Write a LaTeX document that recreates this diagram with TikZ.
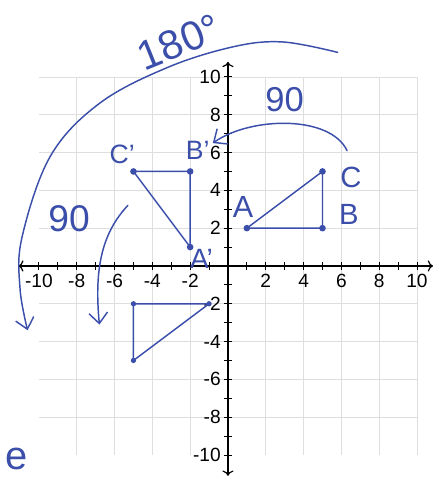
\documentclass[tikz,border=0pt]{standalone}
\usepackage{fontspec}
\setmainfont{Liberation Sans}
\usetikzlibrary{arrows.meta}
\definecolor{pen}{RGB}{58,78,170}

\begin{document}
\begin{tikzpicture}[x=0.5cm, y=0.5cm, font=\Large,
  pen/.style={draw=pen, line width=1.1pt, line cap=round, line join=round},
  dot/.style={circle, fill=pen, inner sep=0pt, minimum size=5pt},
  hand/.style={text=pen, inner sep=1pt},
  turn/.style={pen, -{Straight Barb[length=8pt, width=14pt]}}]
  \useasboundingbox (-12.06,-11.27) rectangle (11.27,14.07);
  % squared paper
  \draw[black!13, line width=0.6pt] (-10,-10) grid (10,10);
  % axes
  \draw[line width=0.9pt, {To[length=4pt]}-{To[length=4pt]}] (-11.1,0) -- (10.85,0);
  \draw[line width=0.9pt, {To[length=4pt]}-{To[length=4pt]}] (0,-11.1) -- (0,10.8);
  \foreach \i in {-10,...,-1,1,2,...,10} {
    \draw[line width=0.7pt] (\i,-0.22) -- (\i,0.22);
    \draw[line width=0.7pt] (-0.22,\i) -- (0.22,\i);
  }
  % tick labels (even values only)
  \foreach \i in {-10,-8,...,-2,2,4,...,10} {
    \node[below, inner sep=1pt] (xl\i) at (\i,-0.35) {\i};
    \node[left, inner sep=1pt] (yl\i) at (-0.3,\i) {\i};
  }

  % original triangle ABC
  \node[dot] (A) at (1,2) {};
  \node[dot] (B) at (5,2) {};
  \node[dot] (C) at (5,5) {};
  \draw[pen] (A.center) -- (B.center) -- (C.center) -- cycle;
  \node[hand, font=\fontsize{23}{23}\selectfont] (lA) at (0.8,3.1) {A};
  \node[hand, font=\fontsize{22}{22}\selectfont] (lB) at (6.4,2.7) {B};
  \node[hand, font=\fontsize{22}{22}\selectfont] (lC) at (6.5,4.7) {C};

  % turned 90 degrees
  \node[dot] (A1) at (-2,1) {};
  \node[dot] (B1) at (-2,5) {};
  \node[dot] (C1) at (-5,5) {};
  \draw[pen] (A1.center) -- (B1.center) -- (C1.center) -- cycle;
  \node[hand, font=\fontsize{21}{21}\selectfont] (lA1) at (-1.4,0.4) {A'};
  \node[hand, font=\fontsize{20}{20}\selectfont] (lB1) at (-1.6,6.1) {B'};
  \node[hand, font=\fontsize{20}{20}\selectfont] (lC1) at (-5.6,5.9) {C'};

  % turned once more
  \node[dot, minimum size=4pt] (A2) at (-1,-2) {};
  \node[dot, minimum size=4pt] (B2) at (-5,-2) {};
  \node[dot, minimum size=4pt] (C2) at (-5,-5) {};
  \draw[pen] (A2.center) -- (B2.center) -- (C2.center) -- cycle;

  % turning arrows
  \coordinate (t1) at (6.3,6.1);
  \coordinate (t2) at (-0.8,6.5);
  \draw[turn] (t1) .. controls (5.4,8) and (1.2,7.9) .. (t2);
  \node[hand, font=\fontsize{26}{26}\selectfont] (n90a) at (3.0,8.8) {90};

  \coordinate (u1) at (-5.3,3.2);
  \coordinate (u2) at (-6.8,-3.1);
  \draw[turn] (u1) .. controls (-6.6,1.8) and (-7.1,0) .. (u2);
  \node[hand, font=\fontsize{28}{28}\selectfont] (n90b) at (-8.4,2.5) {90};

  \coordinate (v1) at (5.8,11.3);
  \coordinate (v2) at (-10.6,-3.4);
  \draw[turn] plot[smooth, tension=0.6] coordinates {(v1) (2.9,11.85) (0.3,11.6)
    (-3.2,10.5) (-6.8,8.6) (-9.4,5.8) (-10.9,1.5) (-11,-1.2) (v2)};
  \node[hand, font=\fontsize{31}{31}\selectfont, rotate=22] (n180) at (-2.6,11.85) {180°};

  \node[hand, font=\fontsize{30}{30}\selectfont] (le) at (-11.2,-10.2) {e};
\end{tikzpicture}
\end{document}
